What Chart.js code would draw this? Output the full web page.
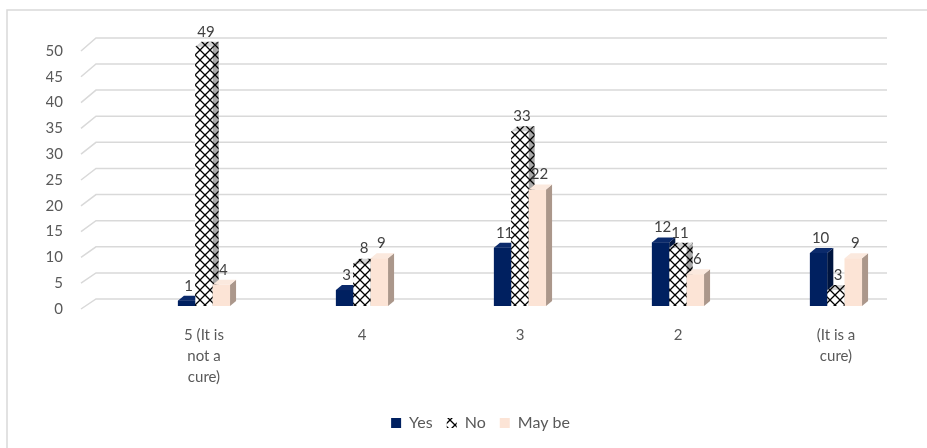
<!DOCTYPE html>
<html>
<head>
<meta charset="utf-8">
<script src="https://cdn.jsdelivr.net/npm/chart.js@4.4.1/dist/chart.umd.min.js"></script>
<style>
  html, body { margin: 0; padding: 0; background: #fff; }
  #wrap { width: 927px; height: 448px; position: relative; }
</style>
</head>
<body>
<div id="wrap"><canvas id="ratingChart"></canvas></div>
<script>
// survey answers per rating
var categories = [['5 (It is', 'not a', 'cure)'], '4', '3', '2', ['(It is a', 'cure)']];
var yesValues = [1, 3, 11, 12, 10];
var noValues = [49, 8, 33, 11, 3];
var maybeValues = [4, 9, 22, 6, 9];
var yTicks = [0, 5, 10, 15, 20, 25, 30, 35, 40, 45, 50];

var FONT = 'Lato, "Noto Sans", sans-serif';
var DEPTH_X = 6, DEPTH_Y = 5;

var canvas = document.getElementById('ratingChart');
var mainCtx = canvas.getContext('2d');

function hatch(bg) {
  var tile = document.createElement('canvas');
  tile.width = 10; tile.height = 10;
  var g = tile.getContext('2d');
  g.fillStyle = bg;
  g.fillRect(0, 0, 10, 10);
  g.strokeStyle = '#000';
  g.lineWidth = 1.3;
  g.beginPath();
  g.moveTo(0, 0); g.lineTo(10, 10);
  g.moveTo(10, 0); g.lineTo(0, 10);
  g.stroke();
  return mainCtx.createPattern(tile, 'repeat');
}

// back wall grid with the short floor edges on the left, plus the frame
var wallGrid = {
  id: 'wallGrid',
  beforeDatasetsDraw: function(chart) {
    var ctx = chart.ctx, y = chart.scales.y, area = chart.chartArea;
    ctx.save();
    ctx.strokeStyle = '#d9d9d9';
    ctx.lineWidth = 1.5;
    ctx.beginPath();
    ctx.moveTo(7, chart.height);
    ctx.lineTo(7, 10);
    ctx.lineTo(chart.width, 10);
    ctx.stroke();
    yTicks.forEach(function(v) {
      var front = y.getPixelForValue(v);
      var back = area.bottom - 10 - (area.bottom - front) * 1.012;
      ctx.beginPath();
      ctx.moveTo(area.left - 44, front);
      ctx.lineTo(area.left - 29, back);
      ctx.lineTo(area.right - 28, back);
      ctx.stroke();
    });
    ctx.restore();
  }
};

// columns with side and top faces, painted left to right
var bars3d = {
  id: 'bars3d',
  afterDatasetsDraw: function(chart) {
    var ctx = chart.ctx;
    ctx.save();
    chart.data.datasets.forEach(function(ds, i) {
      chart.getDatasetMeta(i).data.forEach(function(bar) {
        var p = bar.getProps(['x', 'y', 'base', 'width'], true);
        var l = p.x - p.width / 2, r = p.x + p.width / 2;
        ctx.fillStyle = ds.backgroundColor;
        ctx.fillRect(l, p.y, p.width, p.base - p.y);
        ctx.beginPath();
        ctx.moveTo(r, p.base);
        ctx.lineTo(r, p.y);
        ctx.lineTo(r + DEPTH_X, p.y - DEPTH_Y);
        ctx.lineTo(r + DEPTH_X, p.base - DEPTH_Y);
        ctx.closePath();
        ctx.fillStyle = ds.sideColor;
        ctx.fill();
        ctx.beginPath();
        ctx.moveTo(l, p.y);
        ctx.lineTo(r, p.y);
        ctx.lineTo(r + DEPTH_X, p.y - DEPTH_Y);
        ctx.lineTo(l + DEPTH_X, p.y - DEPTH_Y);
        ctx.closePath();
        ctx.fillStyle = ds.topColor;
        ctx.fill();
      });
    });
    // value labels
    ctx.fillStyle = '#404040';
    ctx.font = '15px ' + FONT;
    ctx.textAlign = 'center';
    ctx.textBaseline = 'middle';
    chart.data.datasets.forEach(function(ds, i) {
      chart.getDatasetMeta(i).data.forEach(function(bar, j) {
        ctx.fillText(String(ds.data[j]), bar.x + 2, bar.y - 15);
      });
    });
    ctx.restore();
  }
};

var chart = new Chart(mainCtx, {
  type: 'bar',
  data: {
    labels: categories,
    datasets: [{
      label: 'Yes',
      data: yesValues,
      backgroundColor: '#002060',
      sideColor: '#00153f',
      topColor: '#0b2a6b',
      yAxisID: 'yBars'
    }, {
      label: 'No',
      data: noValues,
      backgroundColor: hatch('#ffffff'),
      sideColor: hatch('#a8a8a8'),
      topColor: hatch('#d4d4d4'),
      yAxisID: 'yBars'
    }, {
      label: 'May be',
      data: maybeValues,
      backgroundColor: '#fce4d6',
      sideColor: '#ab978b',
      topColor: '#fbe9de',
      yAxisID: 'yBars'
    }]
  },
  options: {
    responsive: true,
    maintainAspectRatio: false,
    animation: false,
    layout: { padding: { left: 46, right: 12, top: 51, bottom: 7 } },
    datasets: {
      bar: { barPercentage: 1, categoryPercentage: 0.33, borderWidth: 0, clip: false }
    },
    scales: {
      x: {
        offset: true,
        grid: { display: false, drawTicks: false },
        border: { display: false },
        ticks: {
          color: '#595959',
          font: { family: FONT, size: 15, lineHeight: 1.4 },
          padding: 16,
          maxRotation: 0,
          autoSkip: false
        },
        afterFit: function(scale) { scale.height -= 3; }
      },
      y: {
        min: 0,
        max: 50,
        afterBuildTicks: function(scale) {
          scale.ticks = yTicks.map(function(v) { return { value: v }; });
        },
        afterFit: function(scale) {
          scale.width = 79;
          scale.paddingTop = 0;
          scale.paddingBottom = 0;
        },
        grid: { display: false, drawTicks: false },
        border: { display: false },
        ticks: {
          color: '#595959',
          font: { family: FONT, size: 15 },
          padding: 62
        }
      },
      yBars: { display: false, min: -0.571, max: 48.19 }
    },
    plugins: {
      legend: {
        position: 'bottom',
        labels: {
          color: '#595959',
          font: { family: FONT, size: 16 },
          boxWidth: 10,
          boxHeight: 10,
          padding: 14
        }
      },
      tooltip: { enabled: false }
    }
  },
  plugins: [wallGrid, bars3d]
});
</script>
</body>
</html>
